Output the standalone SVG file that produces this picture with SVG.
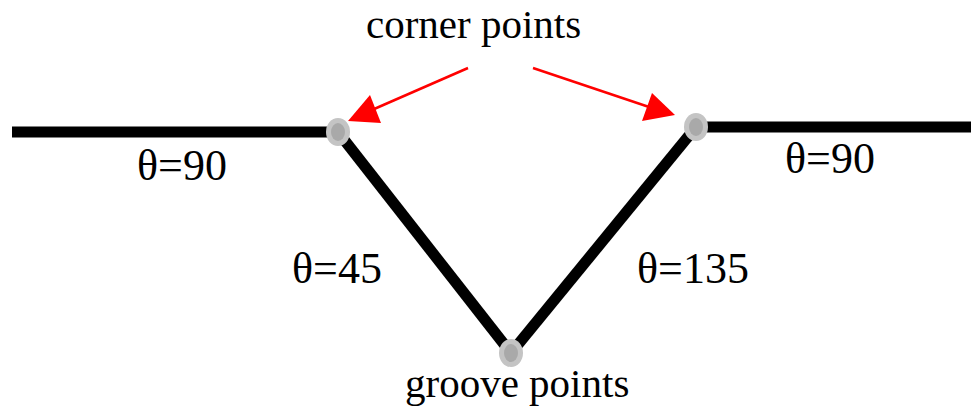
<svg xmlns="http://www.w3.org/2000/svg" width="976" height="415" viewBox="0 0 976 415">
<style>
.ln{stroke:#000;stroke-width:11;fill:none;stroke-linecap:butt}
.t{font-family:"Liberation Serif","Times New Roman",serif;fill:#000}
.big{font-size:44px}
.lab{font-size:41px}
.arr{stroke:#f00;stroke-width:2.5;fill:none}
.ah{fill:#f00}
.pto{fill:#c4c4c4}
.pti{fill:#a9a9a9}
</style>
<rect width="976" height="415" fill="#fff"/>
<g id="edges">
<line class="ln" x1="12" y1="132" x2="338" y2="132"/>
<line class="ln" x1="338" y1="132" x2="511" y2="353"/>
<line class="ln" x1="511" y1="353" x2="696" y2="127"/>
<line class="ln" x1="696" y1="127" x2="971" y2="127"/>
</g>
<g id="connectors">
<line class="arr" x1="468" y1="68" x2="365" y2="113"/>
<polygon class="ah" points="348,121 370,95 381,123"/>
<line class="arr" x1="533" y1="68" x2="658" y2="110"/>
<polygon class="ah" points="675,115 652,93 642,121"/>
</g>
<g id="corner-left"><ellipse class="pto" cx="338" cy="132" rx="12" ry="14"/><ellipse class="pti" cx="338" cy="132" rx="7" ry="9"/></g>
<g id="corner-right"><ellipse class="pto" cx="696" cy="127" rx="12" ry="14"/><ellipse class="pti" cx="696" cy="127" rx="7" ry="9"/></g>
<g id="groove"><ellipse class="pto" cx="511" cy="353" rx="12" ry="14"/><ellipse class="pti" cx="511" cy="353" rx="7" ry="9"/></g>
<g id="labels">
<text class="t lab" x="366" y="38">corner points</text>
<text class="t lab" x="405" y="397">groove points</text>
<text class="t big" x="137" y="180">θ=90</text>
<text class="t big" x="785" y="173">θ=90</text>
<text class="t big" x="292" y="283">θ=45</text>
<text class="t big" x="637" y="283">θ=135</text>
</g>
</svg>
